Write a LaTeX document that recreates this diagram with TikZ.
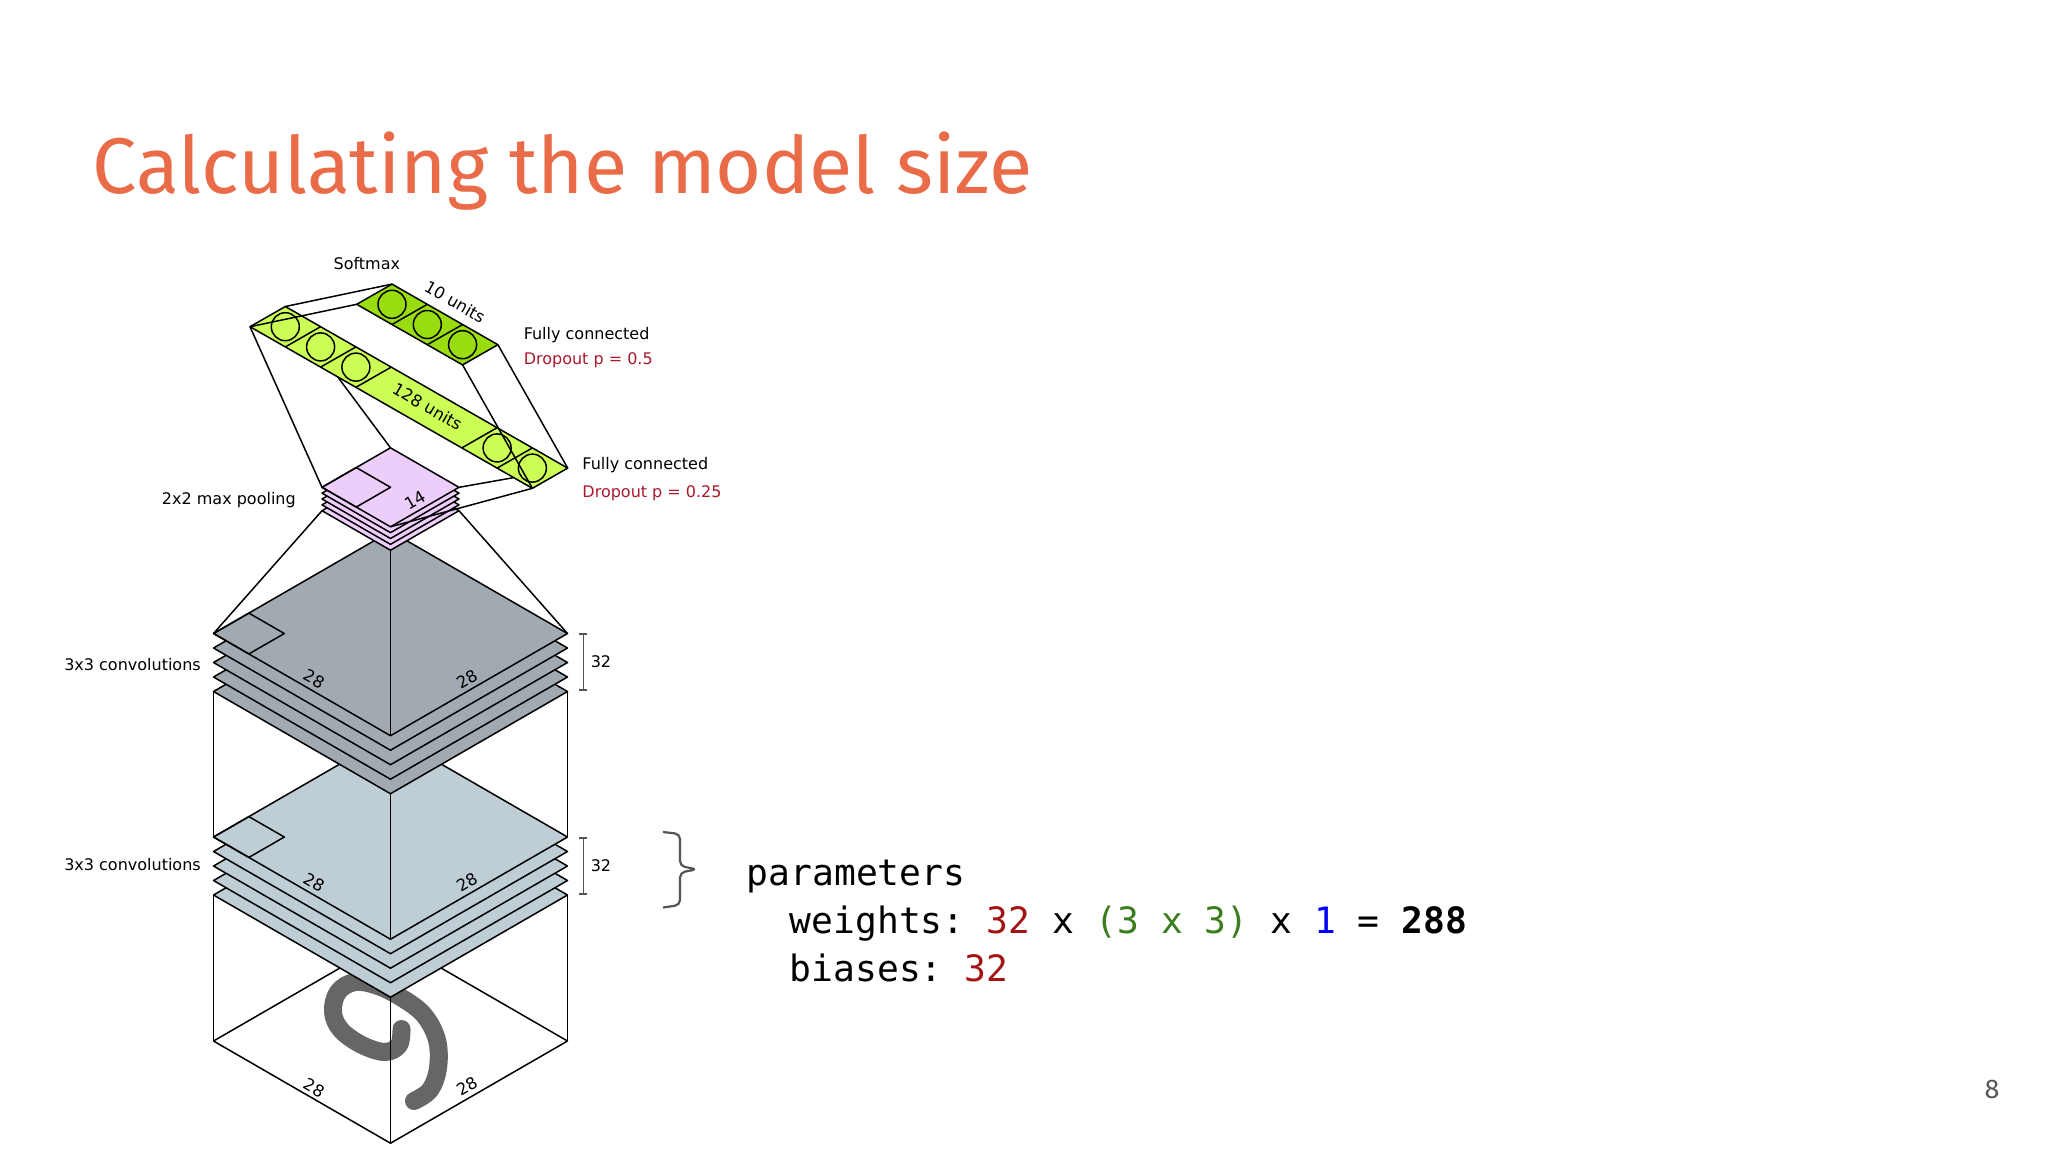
\documentclass[tikz,border=0pt]{standalone}
\usepackage{fontspec}
\setmainfont{DejaVu Sans}
\newfontfamily\titlefont{Fira Sans}
\newfontfamily\codefont{DejaVu Sans Mono}
\definecolor{convA}{HTML}{A1AAB0}
\definecolor{convB}{HTML}{BFCED4}
\definecolor{poolC}{HTML}{EDCDFA}
\definecolor{denseC}{HTML}{CCFF55}
\definecolor{softC}{HTML}{99DD11}
\definecolor{dropC}{HTML}{A8192E}
\definecolor{titleC}{HTML}{E96B48}
\definecolor{digitC}{HTML}{666666}
\definecolor{braceC}{HTML}{555555}
\definecolor{numred}{HTML}{A31515}
\definecolor{numgreen}{HTML}{3C7D1E}
\definecolor{numblue}{HTML}{0000FF}
\newcommand\isolayer[5]{%
  \filldraw[fill=#5] (#1-#3,#2) -- (#1,#2-#4) -- (#1+#3,#2) -- (#1,#2+#4) -- cycle;}
\tikzset{
  lbl/.style={inner sep=0pt, font=\fontsize{8pt}{10pt}\selectfont},
  droplbl/.style={lbl, text=dropC},
  dimlbl/.style={inner sep=0pt, font=\fontsize{8.2pt}{10pt}\selectfont},
  codeline/.style={anchor=base west, inner sep=0pt, font=\codefont\fontsize{18.15pt}{22pt}\selectfont},
  edge/.style={black, line width=0.75pt}
}
\begin{document}
\begin{tikzpicture}[x=0.5pt,y=-0.5pt, line width=0.75pt, line join=round]
\useasboundingbox (0,0) rectangle (2048,1152);
\fill[white] (0,0) rectangle (2048,1152);

% ---------- named corners ----------
\coordinate (iL) at (213.5,1041);
\coordinate (iR) at (567.5,1041);
\coordinate (iB) at (390.5,1143.2);
\coordinate (iT) at (390.5,938.8);
\coordinate (bL) at (213.5,837);
\coordinate (bR) at (567.5,837);
\coordinate (bB) at (390.5,939.2);
\coordinate (bL4) at (213.5,895);
\coordinate (bR4) at (567.5,895);
\coordinate (bB4) at (390.5,997.2);
\coordinate (aL) at (213.5,633.5);
\coordinate (aR) at (567.5,633.5);
\coordinate (aB) at (390.5,735.7);
\coordinate (aL4) at (213.5,691.5);
\coordinate (aR4) at (567.5,691.5);
\coordinate (aB4) at (390.5,793.7);
\coordinate (pL) at (322,487.3);
\coordinate (pT) at (390.5,447.8);
\coordinate (pR) at (459,487.3);
\coordinate (pB) at (390.5,526.8);
\coordinate (qL) at (322,510.7);
\coordinate (qR) at (459,510.7);
\coordinate (qB) at (390.5,550.2);
\coordinate (qT) at (390.5,471.2);

% dense strip corners
\begin{scope}[shift={(250,326.7)}, x={(17.65pt,-10.1pt)}, y={(17.65pt,10.1pt)}]
  \coordinate (dL) at (0,0);
  \coordinate (dT) at (0,1);
  \coordinate (dR) at (8,1);
  \coordinate (dB) at (8,0);
\end{scope}
\begin{scope}[shift={(356.7,304.3)}, x={(17.65pt,-10.1pt)}, y={(17.65pt,10.1pt)}]
  \coordinate (sL) at (0,0);
  \coordinate (sT) at (0,1);
  \coordinate (sR) at (3,1);
  \coordinate (sB) at (3,0);
\end{scope}

% ---------- input image ----------
\filldraw[fill=white] (iL) -- (iT) -- (iR) -- (iB) -- cycle;
\draw[digitC, line width=9pt, line cap=round, line join=round]
  plot[smooth, tension=0.6] coordinates {(401.5,1029) (399,1045) (385,1052) (362,1045) (341,1030) (333,1012) (338,992) (355,982) (378,986) (402,998) (424,1015) (437,1040) (438,1068) (430,1090) (414,1101)};
\draw[edge] (bL4) -- (iL);
\draw[edge] (bR4) -- (iR);
\draw[edge] (bB4) -- (iB);

% ---------- conv 2 ----------
\foreach \k in {4,3,2,1,0}{
  \pgfmathsetmacro\yy{837+14.5*\k}
  \isolayer{390.5}{\yy}{177}{102.2}{convB}
}
\draw[edge] (213.5,837) -- (248.9,816.6) -- (284.3,837) -- (248.9,857.4) -- cycle;
\draw[edge] (aL4) -- (bL);
\draw[edge] (aR4) -- (bR);
\draw[edge] (aB4) -- (bB);

% ---------- conv 1 ----------
\foreach \k in {4,3,2,1,0}{
  \pgfmathsetmacro\yy{633.5+14.5*\k}
  \isolayer{390.5}{\yy}{177}{102.2}{convA}
}
\draw[edge] (213.5,633.5) -- (248.9,613.1) -- (284.3,633.5) -- (248.9,653.9) -- cycle;
\draw[edge] (qL) -- (aL);
\draw[edge] (qR) -- (aR);
\draw[edge] (qB) -- (aB);

% ---------- lines behind strip / pool ----------
\draw[edge] (dT) -- (pT);
\draw[edge] (dR) -- (pR);

% ---------- pooling ----------
\foreach \k in {4,3,2,1,0}{
  \pgfmathsetmacro\yy{487.3+5.85*\k}
  \isolayer{390.5}{\yy}{68.5}{39.5}{poolC}
}
\draw[edge] (322,487.3) -- (356.25,467.55) -- (390.5,487.3) -- (356.25,507.05) -- cycle;
\draw[edge] (dB) -- (pB);
\draw[edge] (dL) -- (pL);

% ---------- dense 128 ----------
\begin{scope}[shift={(250,326.7)}, x={(17.65pt,-10.1pt)}, y={(17.65pt,10.1pt)}]
  \filldraw[fill=denseC] (0,0) -- (0,1) -- (8,1) -- (8,0) -- cycle;
  \foreach \t in {1,2,3,6,7}{ \draw (\t,0) -- (\t,1); }
  \foreach \t in {0.5,1.5,2.5,6.5,7.5}{ \draw (\t,0.5) circle[radius=7pt]; }
\end{scope}
\draw[edge] (dT) -- (sT);
\draw[edge] (dL) -- (sL);
\draw[edge] (sR) -- (dR);
\draw[edge] (sB) -- (dB);

% ---------- softmax 10 ----------
\begin{scope}[shift={(356.7,304.3)}, x={(17.65pt,-10.1pt)}, y={(17.65pt,10.1pt)}]
  \filldraw[fill=softC] (0,0) -- (0,1) -- (3,1) -- (3,0) -- cycle;
  \foreach \t in {1,2}{ \draw (\t,0) -- (\t,1); }
  \foreach \t in {0.5,1.5,2.5}{ \draw (\t,0.5) circle[radius=7pt]; }
\end{scope}

% ---------- dimension labels ----------
\node[dimlbl, rotate=-30] (la1) at (314,679) {28};
\node[dimlbl, rotate=30] (ra1) at (467,679) {28};
\node[dimlbl, rotate=-30] (la2) at (314,882.5) {28};
\node[dimlbl, rotate=30] (ra2) at (467,882.5) {28};
\node[dimlbl, rotate=-30] (la3) at (314,1088) {28};
\node[dimlbl, rotate=30] (ra3) at (467,1086) {28};
\node[dimlbl, rotate=30] (pl14) at (415,500) {14};
\node[dimlbl, rotate=-30] (u10) at (455,302) {10 units};
\node[dimlbl, rotate=-30] (u128) at (427.5,406.5) {128 units};

% ---------- side labels ----------
\node[lbl, anchor=base] (softmax) at (366.8,269) {Softmax};
\node[lbl, anchor=base west] (fc1) at (523,339.3) {Fully connected};
\node[droplbl, anchor=base west] (do1) at (523,364.6) {Dropout p = 0.5};
\node[lbl, anchor=base west] (fc2) at (581.7,469.3) {Fully connected};
\node[droplbl, anchor=base west] (do2) at (581.7,497.3) {Dropout p = 0.25};
\node[lbl, anchor=base east] (poolL) at (296.5,504) {2x2 max pooling};
\node[lbl, anchor=base east] (convL1) at (201.5,670) {3x3 convolutions};
\node[lbl, anchor=base east] (convL2) at (201.5,870) {3x3 convolutions};

% ---------- 32 brackets ----------
\coordinate (k1a) at (583.3,634);
\coordinate (k1b) at (583.3,690);
\coordinate (k2a) at (583.3,838);
\coordinate (k2b) at (583.3,894);
\draw[braceC, line width=0.7pt] (k1a) -- (k1b);
\draw[braceC, line width=0.7pt] ([xshift=-2pt]k1a) -- ([xshift=2pt]k1a);
\draw[braceC, line width=0.7pt] ([xshift=-2pt]k1b) -- ([xshift=2pt]k1b);
\draw[braceC, line width=0.7pt] (k2a) -- (k2b);
\draw[braceC, line width=0.7pt] ([xshift=-2pt]k2a) -- ([xshift=2pt]k2a);
\draw[braceC, line width=0.7pt] ([xshift=-2pt]k2b) -- ([xshift=2pt]k2b);
\node[lbl, anchor=base west] (n32a) at (590,667.7) {32};
\node[lbl, anchor=base west] (n32b) at (590,871.5) {32};

% ---------- brace ----------
\draw[braceC, line width=1.1pt, rounded corners=2.5pt]
  (663,832) -- (680,834) -- (680,866) -- (697,869.3) -- (680,872.5) -- (680,905) -- (663,907.5);

% ---------- code text ----------
\node[codeline] (codeA) at (746,885) {parameters};
\node[codeline] (codeB) at (789,933) {\frenchspacing weights: \textcolor{numred}{32} x \textcolor{numgreen}{(3 x 3)} x \textcolor{numblue}{1} = \textbf{288}};
\node[codeline] (codeC) at (789,981) {\frenchspacing biases: \textcolor{numred}{32}};

% ---------- title & page ----------
\node[anchor=base west, inner sep=0pt, text=titleC] (title) at (92,193.3)
  {\resizebox{470pt}{!}{\titlefont\fontsize{40pt}{48pt}\selectfont Calculating the model size}};
\node[inner sep=0pt, text=braceC, font=\titlefont\fontsize{13.5pt}{16pt}\selectfont] (page) at (1992,1089) {8};
\end{tikzpicture}
\end{document}
